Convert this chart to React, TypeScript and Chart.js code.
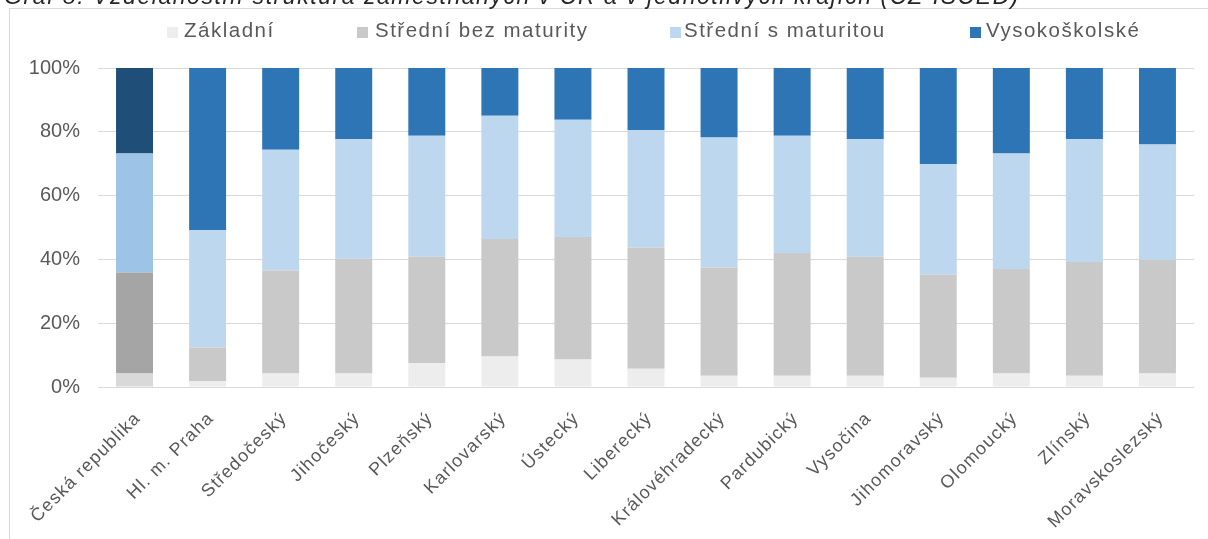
import React, { useEffect, useLayoutEffect, useRef } from "react";
import { Chart, registerables } from "chart.js";

Chart.register(...registerables);

const categories = [
  "Česká republika",
  "Hl. m. Praha",
  "Středočeský",
  "Jihočeský",
  "Plzeňský",
  "Karlovarský",
  "Ústecký",
  "Liberecký",
  "Královéhradecký",
  "Pardubický",
  "Vysočina",
  "Jihomoravský",
  "Olomoucký",
  "Zlínský",
  "Moravskoslezský",
];

const seriesNames = ["Základní", "Střední bez maturity", "Střední s maturitou", "Vysokoškolské"];

const zakladni = [4.2, 1.9, 4.2, 4.2, 7.5, 9.6, 8.6, 5.7, 3.5, 3.5, 3.5, 2.9, 4.2, 3.5, 4.2];
const stredniBez = [31.7, 10.5, 32.3, 36.0, 33.3, 36.8, 38.4, 38.0, 34.0, 38.5, 37.3, 32.4, 32.8, 35.7, 35.6];
const stredniS = [37.3, 36.8, 37.9, 37.5, 38.0, 38.6, 36.8, 36.9, 40.7, 36.8, 36.9, 34.6, 36.2, 38.5, 36.2];
const vysoko = [26.8, 50.8, 25.6, 22.3, 21.2, 15.0, 16.2, 19.4, 21.8, 21.2, 22.3, 30.1, 26.8, 22.3, 24.0];

const yTicks = [0, 20, 40, 60, 80, 100];

const baseColors = ["#ededed", "#c9c9c9", "#bdd7ee", "#2e75b6"];
const highlightColors = ["#d9d9d9", "#a5a5a5", "#9dc3e6", "#1f4e79"];

const FONT = '"Liberation Sans", Arial, sans-serif';
const TEXT = "#595959";

const legendBoxLeft = [167, 357, 670, 970];
const legendTextLeft = [184, 375, 684, 986];

export default function App() {
  const canvasRef = useRef<HTMLCanvasElement | null>(null);

  useLayoutEffect(() => {
    document.body.style.overflow = "hidden";
  }, []);

  useEffect(() => {
    const canvas = canvasRef.current;
    if (!canvas) return;
    const values = [zakladni, stredniBez, stredniS, vysoko];

    const xLabelPlugin = {
      id: "xLabelsRotated",
      afterDraw(chart: any) {
        const { ctx, chartArea } = chart;
        const xScale = chart.scales.x;
        ctx.save();
        ctx.font = `18px ${FONT}`;
        ctx.fillStyle = TEXT;
        ctx.textAlign = "right";
        ctx.textBaseline = "alphabetic";
        (ctx as any).letterSpacing = "1.2px";
        categories.forEach((label, i) => {
          const x = xScale.getPixelForTick(i) + 7;
          const y = chartArea.bottom + 32;
          ctx.save();
          ctx.translate(x, y);
          ctx.rotate(-Math.PI / 4);
          ctx.fillText(label, 0, 0);
          ctx.restore();
        });
        ctx.restore();
      },
    };

    const chart = new Chart(canvas, {
      type: "bar",
      data: {
        labels: categories,
        datasets: seriesNames.map((name, s) => ({
          label: name,
          data: values[s],
          backgroundColor: categories.map((_, i) => (i === 0 ? highlightColors[s] : baseColors[s])),
          borderWidth: 0,
          barPercentage: 0.506,
          categoryPercentage: 1,
        })),
      },
      options: {
        responsive: false,
        animation: false,
        devicePixelRatio: 1,
        layout: { padding: { top: 60, right: 14, left: 0, bottom: 0 } },
        plugins: {
          legend: { display: false },
          tooltip: { enabled: false },
          title: { display: false },
        },
        scales: {
          x: {
            stacked: true,
            grid: { display: false },
            border: { display: false },
            ticks: { display: false },
            afterFit(scale: any) {
              scale.height = 152;
            },
          },
          y: {
            stacked: true,
            min: 0,
            max: 100,
            afterBuildTicks(scale: any) {
              scale.ticks = yTicks.map((v) => ({ value: v }));
            },
            ticks: {
              padding: 18,
              color: TEXT,
              font: { family: FONT, size: 20 },
              callback: (v: any) => `${v}%`,
            },
            grid: { color: "#d9d9d9", lineWidth: 1, drawTicks: false },
            border: { display: false },
            afterFit(scale: any) {
              scale.width = 90;
            },
          },
        },
      },
      plugins: [xLabelPlugin],
    });
    return () => chart.destroy();
  }, []);

  return (
    <div style={{ position: "fixed", left: 0, top: 0, width: 1208, height: 539, background: "#ffffff" }}>
      <div
        style={{
          position: "absolute",
          left: 9,
          top: 8,
          width: 1199,
          height: 531,
          borderLeft: "1px solid #d9d9d9",
          borderTop: "1px solid #d9d9d9",
          boxSizing: "border-box",
        }}
      />
      <div
        style={{
          position: "absolute",
          left: 4,
          top: -15,
          font: `italic 23px ${FONT}`,
          letterSpacing: "1.55px",
          lineHeight: "23px",
          color: "#262626",
          whiteSpace: "nowrap",
        }}
      >
        Graf 8: Vzdělanostní struktura zaměstnaných v ČR a v jednotlivých krajích (CZ-ISCED)
      </div>
      <canvas
        ref={canvasRef}
        width={1200}
        height={531}
        style={{ position: "absolute", left: 8, top: 8, width: 1200, height: 531 }}
      />
      {seriesNames.map((name, s) => (
        <React.Fragment key={name}>
          <div
            style={{
              position: "absolute",
              left: legendBoxLeft[s],
              top: 27,
              width: 11,
              height: 11,
              background: baseColors[s],
            }}
          />
          <div
            style={{
              position: "absolute",
              left: legendTextLeft[s],
              top: 20,
              font: `20.5px ${FONT}`,
              lineHeight: "20px",
              letterSpacing: "1.5px",
              color: TEXT,
              whiteSpace: "nowrap",
            }}
          >
            {name}
          </div>
        </React.Fragment>
      ))}
    </div>
  );
}
